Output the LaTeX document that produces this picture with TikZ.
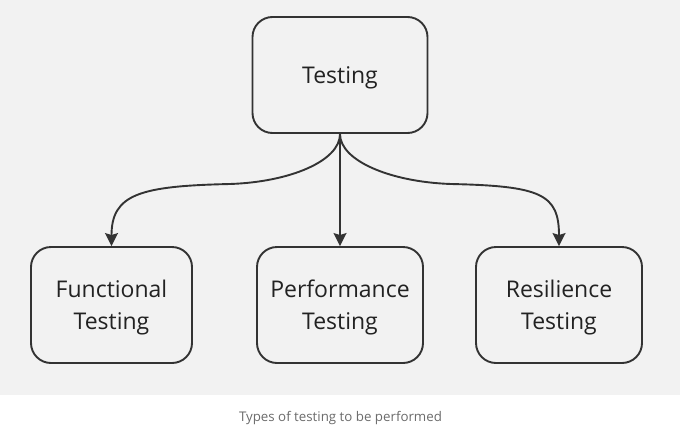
\documentclass[tikz,border=0pt]{standalone}
\usepackage{fontspec}
\setmainfont{Open Sans}
\usetikzlibrary{arrows.meta,calc}
\definecolor{bgc}{HTML}{F2F2F2}
\definecolor{linec}{HTML}{333333}
\definecolor{txtc}{HTML}{222222}
\definecolor{capc}{HTML}{6B6B6B}
\tikzset{
  box/.style={draw=linec, line width=1.9pt, rounded corners=20pt, fill=bgc,
    inner sep=0pt, align=center, text depth=0pt,
    font=\fontsize{23}{32}\selectfont, text=txtc},
  arr/.style={draw=linec, line width=1.9pt, -{Stealth[length=13pt,width=13pt,inset=2pt]}}
}
\begin{document}
\begin{tikzpicture}[x=1pt,y=-1pt]
\useasboundingbox (0,0) rectangle (680,426);
\fill[white] (0,0) rectangle (680,426);
\fill[bgc] (0,0) rectangle (680,395);
\node[box, minimum width=175pt, minimum height=116pt] (top) at (340,75) {Testing};
\node[box, minimum width=161pt, minimum height=116pt] (func) at (111.5,305) {Functional\\Testing};
\node[box, minimum width=166pt, minimum height=116pt] (perf) at (340,305) {Performance\\Testing};
\node[box, minimum width=166pt, minimum height=116pt] (resi) at (559,305) {Resilience\\Testing};
\coordinate (ml) at (230,184);
\coordinate (mr) at (451,184);
\draw[arr] (top.south) -- (perf.north);
\draw[arr] (top.south) .. controls +(0,27) and (290,182) .. (ml)
  .. controls (140,186) and +(0,-52) .. (func.north);
\draw[arr] (top.south) .. controls +(0,27) and (391,182) .. (mr)
  .. controls (541,186) and +(0,-52) .. (resi.north);
\node[font=\fontsize{13.3}{16}\selectfont, text=capc, anchor=base] (cap) at (340.5,421) {Types of testing to be performed};
\end{tikzpicture}
\end{document}
